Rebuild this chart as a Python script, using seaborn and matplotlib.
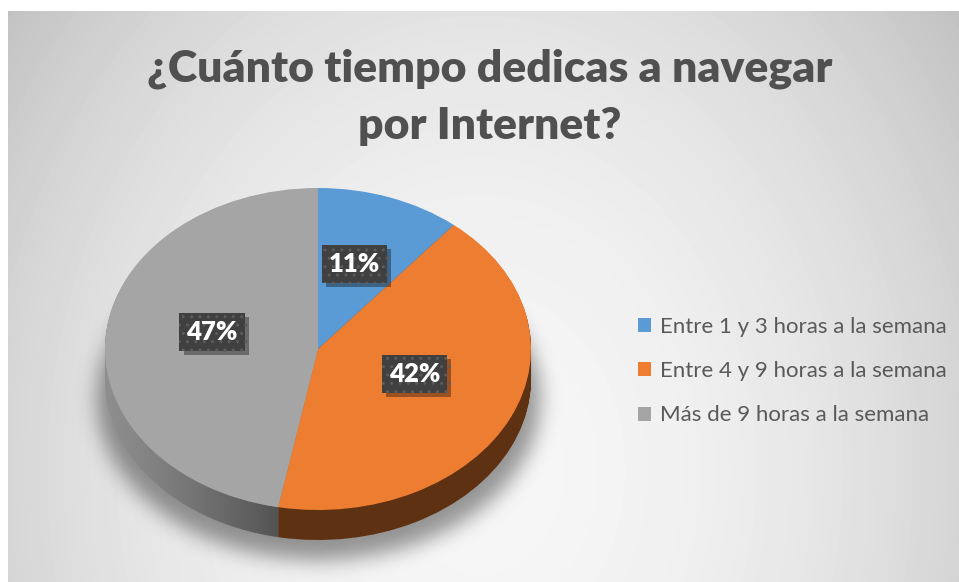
import numpy as np
import matplotlib
matplotlib.use("Agg")
import matplotlib.pyplot as plt
import seaborn as sns
from matplotlib.path import Path
from matplotlib.patches import PathPatch
import matplotlib.patheffects as pe

# Data
categories = ["Entre 1 y 3 horas a la semana",
              "Entre 4 y 9 horas a la semana",
              "Más de 9 horas a la semana"]
shares = [11, 42, 47]
title = "¿Cuánto tiempo dedicas a navegar\npor Internet?"

# Colours (top face / extruded side)
top_colors = ["#5B9BD5", "#ED7D31", "#A5A5A5"]
side_colors = ["#2f5577", "#5f3113", "#8e8e8e"]

sns.set_theme(style="white")
plt.rcParams["font.family"] = ["Lato", "DejaVu Sans"]

W, H = 959, 582
fig = plt.figure(figsize=(W / 100, H / 100), dpi=100)
fig.patch.set_facecolor("white")

# pie layout in pixels: centre and radii of the top ellipse, depth of the side
cx, cy, rx, ry = 318, 349, 213, 161
depth = 30 / ry

# ---- background with soft radial gradient ----
ax_bg = fig.add_axes([8 / W, 0, 1 - 8 / W, 1 - 11 / H])
yy, xx = np.mgrid[11:H, 8:W].astype(float)
dx = (xx - 480) / 480
dy = (yy - 470) / 600
bg = np.clip(0.965 - 0.13 * (dx ** 2 + dy ** 2), 0, 1)
ax_bg.imshow(bg, cmap="gray", vmin=0, vmax=1, aspect="auto",
             extent=(8, W, H, 11), interpolation="bilinear")

# soft drop shadow under the pie (blurred mask)
px = (xx - cx) / rx
py = (cy - yy) / ry
mask = ((px / 1.04) ** 2 + ((py + depth + 0.12) / 1.0) ** 2 <= 1).astype(float)
k = np.exp(-0.5 * (np.arange(-30, 31) / 10.0) ** 2)
k /= k.sum()
mask = np.apply_along_axis(lambda r: np.convolve(r, k, mode="same"), 1, mask)
mask = np.apply_along_axis(lambda c: np.convolve(c, k, mode="same"), 0, mask)
shadow = np.zeros(mask.shape + (4,))
shadow[..., 3] = 0.40 * mask
ax_bg.imshow(shadow, aspect="auto", extent=(8, W, H, 11), interpolation="bilinear")
ax_bg.set_xlim(8, W)
ax_bg.set_ylim(H, 11)
ax_bg.axis("off")

# ---- pie axes: data units = top ellipse radii ----
ax = fig.add_axes([0, 0, 1, 1])
ax.set_facecolor("none")

# extruded side: stacked pies from the bottom up
n_layers = 40
for i in range(n_layers, 0, -1):
    ax.pie(shares, colors=side_colors, startangle=90, counterclock=False,
           center=(0, -depth * i / n_layers), wedgeprops=dict(linewidth=0))

# darken the grey side towards its right edge
fracs = np.cumsum(shares) / np.sum(shares)
a0 = np.radians(90 - 360 * fracs[1])
theta = np.linspace(a0, -np.pi, 60)
upper = np.column_stack([np.cos(theta), np.sin(theta)])
lower = upper[::-1] - [0, depth]
side_path = Path(np.vstack([upper, lower, upper[:1]]))
clip = PathPatch(side_path, transform=ax.transData, facecolor="none", lw=0)
ax.add_patch(clip)
ramp = np.zeros((2, 200, 4))
ramp[..., 3] = np.linspace(0, 0.48, 200) ** 1.2
im = ax.imshow(ramp, extent=(-1.0, np.cos(a0), -1.3, 0), aspect="auto",
               interpolation="bilinear", zorder=2)
im.set_clip_path(clip)

# top face
wedges, _, autotexts = ax.pie(
    shares, colors=top_colors, startangle=90, counterclock=False,
    autopct="%1.0f%%", pctdistance=0.5,
    wedgeprops=dict(linewidth=0, zorder=3),
    textprops=dict(color="white", fontsize=18.5, fontweight="heavy", zorder=5))
for w in wedges:
    w.set_zorder(3)
for t in autotexts:
    x, y = t.get_position()
    t.set_position((x, y + 0.06))
    t.set_bbox(dict(boxstyle="square,pad=0.27", facecolor="#404040",
                    edgecolor="#5c5c5c", linewidth=0, hatch=".."))
    t.get_bbox_patch().set_path_effects(
        [pe.withSimplePatchShadow(offset=(3, -3), shadow_rgbFace="black", alpha=0.35)])

ax.set_aspect("auto")
ax.set_xlim(-cx / rx, (W - cx) / rx)
ax.set_ylim((cy - H) / ry, cy / ry)
ax.axis("off")

# legend
leg = ax.legend(wedges, categories, loc="center left",
                bbox_to_anchor=(629 / W, 1 - 371 / H), bbox_transform=fig.transFigure,
                frameon=False, fontsize=16, handlelength=0.6, handleheight=0.6,
                handletextpad=0.4, labelspacing=1.1, borderaxespad=0)
for txt in leg.get_texts():
    txt.set_color("#595959")

# title
fig.text(490 / W, 1 - 97 / H, title, ha="center", va="center",
         fontsize=32, fontweight="heavy", color="#505050", linespacing=1.5)

fig.savefig("out.png", dpi=100)
